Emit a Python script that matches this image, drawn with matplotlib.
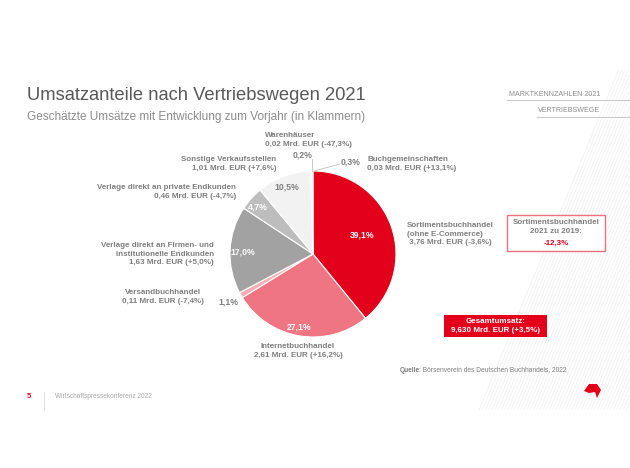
import numpy as np
import matplotlib.pyplot as plt
from matplotlib.patches import Rectangle, Polygon

# Daten
kanaele = ['Sortimentsbuchhandel', 'Internetbuchhandel', 'Versandbuchhandel',
           'Verlage Firmen', 'Verlage privat', 'Sonstige', 'Warenhäuser', 'Buchgemeinschaften']
anteile = [39.1, 27.1, 1.1, 17.0, 4.7, 10.5, 0.2, 0.3]
anteil_labels = ['39,1%', '27,1%', '1,1%', '17,0%', '4,7%', '10,5%', '0,2%', '0,3%']
farben = ['#E2001A', '#EF7582', '#F5AEB8', '#A2A2A2', '#BDBDBD', '#F2F2F2', '#D9D9D9', '#E6E6E6']

W, H = 630, 468
GRAU = '#7F7F7F'
ROT = '#E2001A'


def Y(y):
    # Pixel von oben -> Datenkoordinate
    return H - y


fig = plt.figure(figsize=(6.3, 4.68), dpi=100)
ax = fig.add_axes([0, 0, 1, 1])
plt.rcParams['font.family'] = ['Liberation Sans', 'DejaVu Sans']

# Hintergrund-Schraffur rechts
clip = Polygon([(477, Y(410)), (618, Y(70)), (W, Y(70)), (W, Y(410))],
               closed=True, facecolor='none', edgecolor='none')
ax.add_patch(clip)
for x0 in np.arange(300, 820, 3.2):
    ln, = ax.plot([x0, x0 + 0.41 * 340], [Y(410), Y(70)], color='#F0F0F0', lw=0.5, zorder=0)
    ln.set_clip_path(clip)

# Torte
cx, cy, r = 313, Y(254), 83
wedges, _ = ax.pie(anteile, colors=farben, startangle=90, counterclock=False,
                   center=(cx, cy), radius=r,
                   wedgeprops=dict(edgecolor='white', linewidth=0.8))

ax.set_xlim(0, W)
ax.set_ylim(0, H)
ax.set_aspect('auto')
ax.axis('off')

# Prozentwerte
innen = {'39,1%': (362, 235), '27,1%': (299, 327), '17,0%': (243, 252), '4,7%': (258, 207)}
for t, (x, y) in innen.items():
    ax.text(x, Y(y), t, color='white', fontsize=6.2, fontweight='bold', ha='center', va='center')
ax.text(287, Y(187), '10,5%', color=GRAU, fontsize=6.2, fontweight='bold', ha='center', va='center')
ax.text(228, Y(302), '1,1%', color=GRAU, fontsize=6.2, fontweight='bold', ha='center', va='center')
ax.text(303, Y(155), '0,2%', color=GRAU, fontsize=6.2, fontweight='bold', ha='center', va='center')
ax.text(351, Y(162), '0,3%', color=GRAU, fontsize=6.2, fontweight='bold', ha='center', va='center')

# Fuehrungslinien
ax.plot([312, 312], [Y(171), Y(159)], color='#BFBFBF', lw=0.6)
ax.plot([314, 340], [Y(171), Y(164)], color='#BFBFBF', lw=0.6)

# Beschriftungen
lab = dict(color=GRAU, fontsize=5.8, fontweight='bold', linespacing=1.3)
ax.text(265, Y(140), 'Warenhäuser\n0,02 Mrd. EUR (-47,3%)', ha='left', va='center', **lab)
ax.text(276, Y(164), 'Sonstige Verkaufsstellen\n1,01 Mrd. EUR (+7,6%)', ha='right', va='center', **lab)
ax.text(367, Y(164), 'Buchgemeinschaften\n0,03 Mrd. EUR (+13,1%)', ha='left', va='center', **lab)
ax.text(236, Y(192), 'Verlage direkt an private Endkunden\n0,46 Mrd. EUR (-4,7%)', ha='right', va='center', **lab)
ax.text(214, Y(254), 'Verlage direkt an Firmen- und\ninstitutionelle Endkunden\n1,63 Mrd. EUR (+5,0%)',
        ha='right', va='center', multialignment='right', **lab)
ax.text(163, Y(297), 'Versandbuchhandel\n0,11 Mrd. EUR (-7,4%)', ha='center', va='center', **lab)
ax.text(298, Y(351), 'Internetbuchhandel\n2,61 Mrd. EUR (+16,2%)', ha='center', va='center', **lab)
ax.text(407, Y(234), 'Sortimentsbuchhandel\n(ohne E-Commerce)\n 3,76 Mrd. EUR (-3,6%)',
        ha='left', va='center', **lab)

# Kasten Sortimentsbuchhandel
ax.add_patch(Rectangle((507, Y(251)), 98, 36, facecolor='white', edgecolor='#EE6F7E', lw=1.0, zorder=3))
ax.text(556, Y(227), 'Sortimentsbuchhandel\n2021 zu 2019:', ha='center', va='center', zorder=4, **lab)
ax.text(556, Y(243), '-12,3%', ha='center', va='center', color=ROT, fontsize=5.8, fontweight='bold', zorder=4)

# Kasten Gesamtumsatz
ax.add_patch(Rectangle((444, Y(337)), 103, 22, facecolor=ROT, edgecolor='none', zorder=3))
ax.text(495.5, Y(326), 'Gesamtumsatz:\n9,630 Mrd. EUR (+3,5%)', ha='center', va='center', color='white',
        fontsize=5.8, fontweight='bold', linespacing=1.3, zorder=4)

# Titel
ax.text(27, Y(95), 'Umsatzanteile nach Vertriebswegen 2021', fontsize=13.2, color='#595959',
        ha='left', va='center')
ax.text(27, Y(117), 'Geschätzte Umsätze mit Entwicklung zum Vorjahr (in Klammern)', fontsize=8.5,
        color='#8C8C8C', ha='left', va='center')

# Kopfbereich rechts
ax.text(600, Y(94), 'MARKTKENNZAHLEN 2021', fontsize=5.1, color='#8C8C8C', ha='right', va='center')
ax.plot([507, W], [Y(100), Y(100)], color='#BFBFBF', lw=0.6)
ax.text(600, Y(111), 'VERTRIEBSWEGE', fontsize=5.1, color='#8C8C8C', ha='right', va='center')
ax.plot([537, W], [Y(117), Y(117)], color='#BFBFBF', lw=0.6)

# Quelle
ax.text(400, Y(370), 'Quelle', fontsize=4.8, color=GRAU, fontweight='bold', ha='left', va='center')
ax.text(419, Y(370), ': Börsenverein des Deutschen Buchhandels, 2022', fontsize=4.8, color=GRAU,
        ha='left', va='center')

# Fusszeile
ax.text(27, Y(397), '5', fontsize=5.5, color=ROT, fontweight='bold', ha='left', va='center')
ax.plot([44, 44], [Y(392), Y(410)], color='#D9D9D9', lw=0.6)
ax.text(55, Y(397), 'Wirtschaftspressekonferenz 2022', fontsize=4.7, color='#A6A6A6', ha='left', va='center')

# Logo
logo = [(584, 391), (589, 384), (597, 384), (601, 390), (597, 398), (595, 392), (589, 393)]
ax.add_patch(Polygon([(x, Y(y)) for x, y in logo], closed=True, facecolor=ROT, edgecolor='none'))

fig.savefig('out.png', dpi=100)
